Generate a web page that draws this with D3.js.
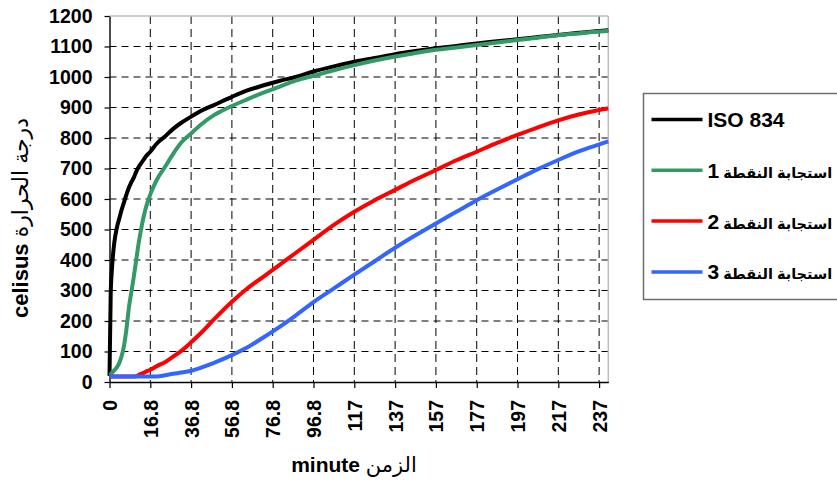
<!DOCTYPE html>
<html>
<head>
<meta charset="utf-8">
<script src="https://cdn.jsdelivr.net/npm/d3@7"></script>
<style>
    body { margin: 0; background: #fff; }
    svg { display: block; font-family: "Liberation Sans", Arial, "DejaVu Sans", sans-serif; }
</style>
</head>
<body>
<svg id="chart" width="837" height="482"></svg>
<script>
// Time in minutes (x) and temperature readings (y) for each curve
const times = [0, 0.5, 1, 2, 3, 4, 5, 6, 7, 8, 9, 10, 11, 12, 13, 14, 15, 16.8, 20, 24, 28, 32, 36.8, 42, 48, 56.8,
    64, 72, 80, 88, 96.8, 106.8, 116.8, 126.8, 136.8, 146.8, 156.8, 166.8, 176.8, 186.8, 196.8, 206.8, 216.8, 226.8, 236.8, 241.3];

const iso834 = [20, 290, 370, 458, 505, 535, 565, 590, 615, 638, 655, 670, 690, 705, 717, 728, 740, 755, 782, 805, 830, 850, 870, 890, 908, 935,
    955, 972, 987, 1000, 1018, 1035, 1050, 1062, 1075, 1085, 1094, 1102, 1110, 1117, 1124, 1131, 1138, 1145, 1151, 1153];

const point1 = [22, 25, 30, 38, 48, 62, 85, 120, 175, 245, 295, 345, 400, 455, 500, 540, 572, 615, 663, 705, 748, 785, 815, 846, 875, 905,
    926, 948, 968, 988, 1004, 1022, 1039, 1054, 1067, 1079, 1089, 1097, 1105, 1113, 1121, 1129, 1137, 1143, 1149, 1151];

const point2 = [18, 18, 18, 18, 18, 18, 18, 18, 18, 18, 18, 18, 19, 23, 27, 30, 34, 40, 52, 65, 83, 102, 130, 163, 205, 263,
    305, 344, 383, 423, 466, 515, 558, 596, 630, 664, 695, 727, 755, 784, 810, 835, 858, 877, 892, 897];

const point3 = [18, 18, 18, 18, 18, 18, 18, 18, 18, 18, 18, 18, 18, 18, 18, 18, 18, 18, 18, 22, 27, 31, 37, 48, 63, 88,
    112, 145, 180, 218, 262, 307, 352, 396, 440, 481, 520, 558, 596, 631, 665, 698, 728, 756, 779, 789];

const seriesNames = ['ISO 834', 'استجابة النقطة 1', 'استجابة النقطة 2', 'استجابة النقطة 3'];
const seriesColors = ['#000000', '#339966', '#ff0000', '#3366ff'];

const xTickValues = [0, 16.8, 36.8, 56.8, 76.8, 96.8, 116.8, 136.8, 156.8, 176.8, 196.8, 216.8, 236.8];
const xTickLabels = ['0', '16.8', '36.8', '56.8', '76.8', '96.8', '117', '137', '157', '177', '197', '217', '237'];
const yTickValues = [0, 100, 200, 300, 400, 500, 600, 700, 800, 900, 1000, 1100, 1200];

const xTitleLatin = 'minute';
const xTitleArabic = 'الزمن';
const yTitleLatin = 'celisus';
const yTitleArabic = 'درجة الحرارة';

// Layout
const margin = { top: 16, right: 228.7, bottom: 100, left: 109.5 };
const svgW = 837, svgH = 482;
const width = svgW - margin.left - margin.right;
const height = svgH - margin.top - margin.bottom;

const svg = d3.select('#chart');
const g = svg.append('g').attr('transform', `translate(${margin.left},${margin.top})`);

// Excel category axis: the first label interval is 16.8 min, the rest 20 min, all equally spaced
const tMax = times[times.length - 1];
const step = width / (1 + (tMax - 16.8) / 20);
const x = d3.scaleLinear().domain([0, 16.8, tMax]).range([0, step, width]);
const y = d3.scaleLinear().domain([0, 1200]).range([height, 0]);

// Grid lines
g.append('g').selectAll('line')
    .data(yTickValues.slice(1, -1))
    .enter().append('line')
    .attr('x1', 0).attr('x2', width)
    .attr('y1', d => y(d)).attr('y2', d => y(d))
    .attr('stroke', '#000').attr('stroke-width', 1)
    .attr('stroke-dasharray', '7,5');

g.append('g').selectAll('line')
    .data(xTickValues.slice(1))
    .enter().append('line')
    .attr('x1', d => x(d)).attr('x2', d => x(d))
    .attr('y1', 0).attr('y2', height)
    .attr('stroke', '#000').attr('stroke-width', 1)
    .attr('stroke-dasharray', '8,5');

// Plot area frame (top and right in light gray)
g.append('line').attr('x1', 0).attr('x2', width).attr('y1', 0).attr('y2', 0)
    .attr('stroke', '#bdbdbd').attr('stroke-width', 1.5);
g.append('line').attr('x1', width).attr('x2', width).attr('y1', 0).attr('y2', height)
    .attr('stroke', '#bdbdbd').attr('stroke-width', 1.5);

// Axes
const xAxis = g.append('g')
    .attr('transform', `translate(0,${height})`)
    .call(d3.axisBottom(x)
        .tickValues(xTickValues)
        .tickFormat((d, i) => xTickLabels[i])
        .tickSize(6)
        .tickSizeOuter(0));

xAxis.selectAll('text')
    .attr('transform', 'rotate(-90)')
    .attr('x', -18)
    .attr('y', 0)
    .attr('dy', '0.36em')
    .style('text-anchor', 'end');

const yAxis = g.append('g')
    .call(d3.axisLeft(y)
        .tickValues(yTickValues)
        .tickFormat(d3.format('d'))
        .tickSize(5)
        .tickSizeOuter(0)
        .tickPadding(12));

[xAxis, yAxis].forEach(ax => {
    ax.select('.domain').attr('stroke', '#000').attr('stroke-width', 1.4);
    ax.selectAll('.tick line').attr('stroke', '#000').attr('stroke-width', 1.2);
    ax.selectAll('text')
        .attr('fill', '#000')
        .style('font-size', '19.5px')
        .style('font-weight', 'bold')
        .style('font-family', '"Liberation Sans", Arial, sans-serif');
});

// Curves
const allSeries = [iso834, point1, point2, point3];
const line = d3.line()
    .x((d, i) => x(times[i]))
    .y(d => y(d))
    .curve(d3.curveMonotoneX);

allSeries.forEach((values, k) => {
    g.append('path')
        .attr('fill', 'none')
        .attr('stroke', seriesColors[k])
        .attr('stroke-width', 4)
        .attr('stroke-linejoin', 'round')
        .attr('d', line(values));
});

// Axis titles
const xTitle = svg.append('text')
    .attr('x', 354)
    .attr('y', 472)
    .style('text-anchor', 'middle')
    .style('font-size', '21px')
    .attr('fill', '#000');
xTitle.append('tspan').style('font-weight', 'bold').text(xTitleLatin + '  ');
xTitle.append('tspan').style('font-weight', 'normal').text(xTitleArabic);

const yTitle = svg.append('text')
    .attr('transform', 'translate(28,218) rotate(-90)')
    .style('text-anchor', 'middle')
    .style('font-size', '22px')
    .attr('fill', '#000');
yTitle.append('tspan').style('font-weight', 'bold').text(yTitleLatin + '   ');
yTitle.append('tspan').style('font-weight', 'normal').text(yTitleArabic);

// Legend
const legendX = 643.5;
const legend = svg.append('g').attr('transform', `translate(${legendX},93.5)`);
legend.append('rect')
    .attr('width', 210)
    .attr('height', 206)
    .attr('fill', '#fff')
    .attr('stroke', '#6e6e6e')
    .attr('stroke-width', 1.5);

const textRoom = svgW - legendX - 64 - 5;
seriesNames.forEach((name, i) => {
    const item = legend.append('g').attr('transform', `translate(0, ${26 + i * 50.8})`);
    item.append('line')
        .attr('x1', 8).attr('x2', 59)
        .attr('stroke', seriesColors[i])
        .attr('stroke-width', 3.5);
    const label = item.append('text')
        .attr('x', 64)
        .attr('dy', '0.36em')
        .style('font-size', '21px')
        .style('font-weight', 'bold')
        .attr('fill', '#000')
        .text(name);
    // long labels: keep the number full size, shrink the words so they stay in the window
    const len = label.node().getComputedTextLength();
    if (len > textRoom) {
        const cut = name.lastIndexOf(' ') + 1;
        label.text(null);
        const words = label.append('tspan').text(name.slice(0, cut));
        const num = label.append('tspan').text(name.slice(cut));
        const numW = num.node().getComputedTextLength();
        const wordsW = words.node().getComputedTextLength();
        words.style('font-size', (21 * (textRoom - numW) / wordsW).toFixed(1) + 'px');
    }
});
</script>
</body>
</html>
